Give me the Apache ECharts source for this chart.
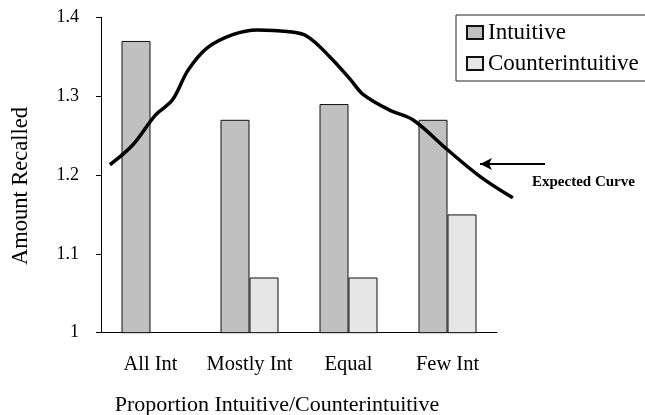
<!DOCTYPE html>
<html>
<head>
<meta charset="utf-8">
<script src="https://cdn.jsdelivr.net/npm/echarts@6/dist/echarts.min.js"></script>
<style>html,body{margin:0;padding:0;background:#fff;}#c{width:645px;height:415px;}</style>
</head>
<body>
<div id="c"></div>
<script>
const categories = ['All Int', 'Mostly Int', 'Equal', 'Few Int'];
const intuitive = [1.37, 1.27, 1.29, 1.27];
const counterintuitive = [null, 1.07, 1.07, 1.15];
const yTicks = [1, 1.1, 1.2, 1.3, 1.4];
// Expected curve, x in category units (0 = left edge of axis, 4 = right edge)
const curveX = [0.09, 0.32, 0.55, 0.72, 0.88, 1.07, 1.33, 1.58, 1.88, 2.08, 2.31, 2.52, 2.65, 2.92, 3.15, 3.50, 3.83, 4.16];
const curveY = [1.213, 1.238, 1.276, 1.295, 1.333, 1.361, 1.378, 1.384, 1.382, 1.376, 1.350, 1.321, 1.302, 1.282, 1.270, 1.232, 1.198, 1.171];

const serif = '"Liberation Serif", "DejaVu Serif", serif';
const L = 101, R = 497, T = 17.3, B = 332.7;
const step = (R - L) / 4;
const curveMax = 4.3;
const chart = echarts.init(document.getElementById('c'), null, {renderer: 'canvas'});
chart.setOption({
  animation: false,
  backgroundColor: '#fff',
  grid: [
    {left: L, right: 645 - R, top: T, bottom: 415 - B, containLabel: false, outerBoundsMode: 'none'},
    {left: L, right: 645 - (L + curveMax * step), top: T, bottom: 415 - B, containLabel: false, outerBoundsMode: 'none'}
  ],
  legend: {
    orient: 'vertical',
    left: 456, top: 15,
    data: ['Intuitive', 'Counterintuitive'],
    icon: 'rect',
    borderColor: '#222', borderWidth: 1,
    padding: [6, 14, 6, 10],
    itemWidth: 16, itemHeight: 13,
    itemGap: 8,
    textStyle: {fontFamily: serif, fontSize: 23, color: '#000'},
    backgroundColor: '#fff'
  },
  xAxis: [{
    type: 'category', gridIndex: 0,
    data: categories,
    axisLine: {lineStyle: {color: '#000', width: 1}},
    axisTick: {length: 5, lineStyle: {color: '#000'}},
    axisLabel: {fontFamily: serif, fontSize: 20.5, color: '#000', margin: 21, interval: 0},
    name: 'Proportion Intuitive/Counterintuitive',
    nameLocation: 'middle',
    nameGap: 62,
    nameTextStyle: {fontFamily: serif, fontSize: 22, color: '#000', padding: [0, 44, 0, 0]}
  }, {
    type: 'value', gridIndex: 1, min: 0, max: curveMax, show: false
  }],
  yAxis: [{
    type: 'value', gridIndex: 0, min: 1, max: 1.4, interval: 0.1,
    axisLine: {show: true, lineStyle: {color: '#000', width: 1}},
    axisTick: {show: true, length: 5, lineStyle: {color: '#000'}},
    splitLine: {show: false},
    axisLabel: {fontFamily: serif, fontSize: 18, color: '#000', margin: 22,
      formatter: v => (Math.abs(v - 1) < 1e-9 ? '1' : v.toFixed(1))},
    name: 'Amount Recalled',
    nameLocation: 'middle',
    nameGap: 68,
    nameRotate: 90,
    nameTextStyle: {fontFamily: serif, fontSize: 22.5, color: '#000', padding: [0, 22, 0, 0]}
  }, {
    type: 'value', gridIndex: 1, min: 1, max: 1.4, show: false
  }],
  series: [{
    name: 'Intuitive', type: 'bar', data: intuitive,
    barWidth: 29, barGap: '0%',
    itemStyle: {color: '#c0c0c0', borderColor: '#111', borderWidth: 1}
  }, {
    name: 'Counterintuitive', type: 'bar', data: counterintuitive,
    barWidth: 29,
    itemStyle: {color: '#e6e6e6', borderColor: '#111', borderWidth: 1}
  }, {
    name: 'Expected Curve', type: 'line', xAxisIndex: 1, yAxisIndex: 1,
    data: curveX.map((x, i) => [x, curveY[i]]),
    smooth: 0.35, symbol: 'none', clip: false,
    lineStyle: {color: '#000', width: 3.5},
    markLine: {
      silent: true,
      symbol: ['none', 'arrow'], symbolSize: [9, 12],
      lineStyle: {color: '#000', width: 2, type: 'solid'},
      label: {show: false},
      data: [[{x: 545, y: 164}, {x: 480, y: 164}]]
    }
  }],
  graphic: [{
    type: 'text', left: 532, top: 175,
    style: {text: 'Expected Curve', fontFamily: serif, fontWeight: 'bold', fontSize: 15, fill: '#000'}
  }]
});
</script>
</body>
</html>
